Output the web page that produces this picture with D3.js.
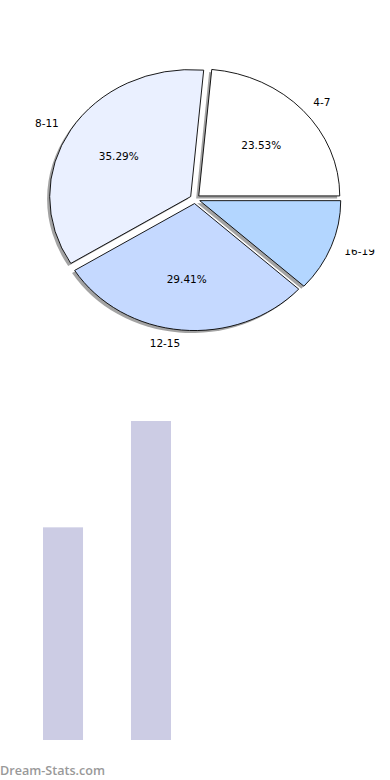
<!DOCTYPE html>
<html>
<head>
<meta charset="utf-8">
<script src="https://cdn.jsdelivr.net/npm/d3@7"></script>
<style>
  body { margin: 0; background: #fff; }
  svg { display: block; }
</style>
</head>
<body>
<div id="chart"></div>
<script>
// pie data
var pieLabels = ["4-7", "8-11", "12-15", "16-19"];
var pieValues = [4, 6, 5, 2];
var pieColors = ["#ffffff", "#eaf0ff", "#c5d9ff", "#b3d6ff"];

// bar data
var barCats = ["4-7", "8-11"];
var barValues = [4, 6];

var width = 390, height = 780;

var svg = d3.select("#chart")
  .append("svg")
  .attr("width", width)
  .attr("height", height);

// ---- pie ----
var cx = 195, cy = 199, rx = 141, ry = 127, explode = 0.036;

var pie = d3.pie()
  .sort(null)
  .startAngle(Math.PI / 2)
  .endAngle(Math.PI / 2 - 2 * Math.PI)
  .value(function(d) { return d; });

var arcs = pie(pieValues);
var arc = d3.arc().innerRadius(0).outerRadius(rx);
var total = d3.sum(pieValues);

function mid(d) { return (d.startAngle + d.endAngle) / 2; }

var pieG = svg.append("g")
  .attr("transform", "translate(" + cx + "," + cy + ") scale(1," + (ry / rx) + ")");

function offset(d) {
  var a = mid(d);
  return "translate(" + (Math.sin(a) * explode * rx) + "," + (-Math.cos(a) * explode * rx) + ")";
}

// shadows first
pieG.selectAll("path.shadow")
  .data(arcs)
  .enter()
  .append("path")
    .attr("class", "shadow")
    .attr("d", arc)
    .attr("transform", function(d) { return "translate(-2.6,2.8) " + offset(d); })
    .style("fill", "#666")
    .style("opacity", 0.6);

pieG.selectAll("path.wedge")
  .data(arcs)
  .enter()
  .append("path")
    .attr("class", "wedge")
    .attr("d", arc)
    .attr("transform", offset)
    .style("fill", function(d, i) { return pieColors[i]; })
    .style("stroke", "#000")
    .style("stroke-width", 0.9)
    .attr("vector-effect", "non-scaling-stroke");

function labelPos(d, r) {
  var a = mid(d);
  var s = Math.sin(a), c = Math.cos(a);
  return [cx + s * (r + explode) * rx, cy - c * (r + explode) * ry];
}

// the 16-19 label is cut at the top in the original
svg.append("clipPath").attr("id", "lblclip")
  .append("rect").attr("x", 0).attr("y", 249.5).attr("width", width).attr("height", 100);

svg.selectAll("text.plabel")
  .data(arcs)
  .enter()
  .append("text")
    .attr("class", "plabel")
    .attr("x", function(d) { return labelPos(d, 1.1)[0]; })
    .attr("y", function(d) { return labelPos(d, 1.1)[1]; })
    .attr("text-anchor", function(d) { return Math.sin(mid(d)) > 0 ? "start" : "end"; })
    .attr("dominant-baseline", "central")
    .attr("clip-path", function(d, i) { return i === 3 ? "url(#lblclip)" : null; })
    .attr("font-family", "DejaVu Sans")
    .attr("font-size", 10.5)
    .attr("fill", "#000")
    .text(function(d, i) { return pieLabels[i]; });

svg.selectAll("text.pct")
  .data(arcs.filter(function(d) { return d.value / total > 0.2; }))
  .enter()
  .append("text")
    .attr("class", "pct")
    .attr("x", function(d) { return labelPos(d, 0.6)[0]; })
    .attr("y", function(d) { return labelPos(d, 0.6)[1]; })
    .attr("text-anchor", "middle")
    .attr("dominant-baseline", "central")
    .attr("font-family", "DejaVu Sans")
    .attr("font-size", 10.5)
    .attr("fill", "#000")
    .text(function(d) { return (d.value / total * 100).toFixed(2) + "%"; });

// ---- bars ----
var x = d3.scaleBand()
  .domain(barCats)
  .range([19, 195])
  .paddingInner(0.545)
  .paddingOuter(0.2727);

var y = d3.scaleLinear()
  .domain([0, 6])
  .range([740, 421]);

svg.selectAll("rect.bar")
  .data(barValues)
  .enter()
  .append("rect")
    .attr("class", "bar")
    .attr("x", function(d, i) { return x(barCats[i]); })
    .attr("y", function(d) { return y(d); })
    .attr("width", x.bandwidth())
    .attr("height", function(d) { return y(0) - y(d); })
    .style("fill", "#cccce4");

// watermark
svg.append("text")
  .attr("x", 0)
  .attr("y", 775)
  .attr("font-family", "Open Sans")
  .attr("font-size", 12.6)
  .attr("font-weight", 600)
  .attr("fill", "#999")
  .text("Dream-Stats.com");
</script>
</body>
</html>
